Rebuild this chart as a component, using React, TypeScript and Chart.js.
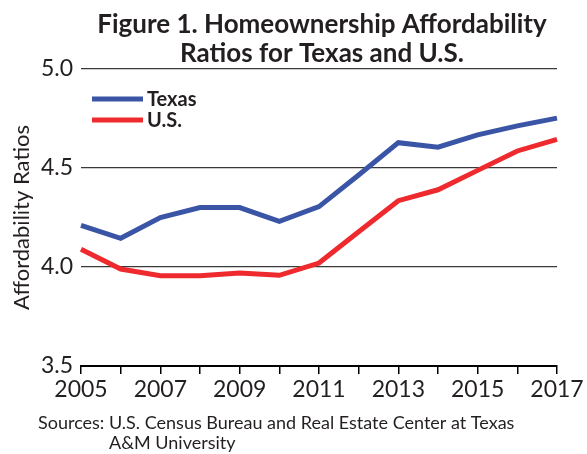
import React, { useEffect, useRef } from "react";
import { Chart, registerables } from "chart.js";

Chart.register(...registerables);

const years = ["2005", "2006", "2007", "2008", "2009", "2010", "2011", "2012", "2013", "2014", "2015", "2016", "2017"];
const texasValues = [4.21, 4.145, 4.25, 4.3, 4.3, 4.23, 4.305, 4.465, 4.628, 4.605, 4.667, 4.713, 4.752];
const usValues = [4.09, 3.99, 3.956, 3.956, 3.97, 3.958, 4.02, 4.178, 4.335, 4.39, 4.488, 4.586, 4.645];
const seriesNames = ["Texas", "U.S."];
const seriesColors = ["#3a55a5", "#ee2a2e"];
const titleLines = ["Figure 1. Homeownership Affordability", "Ratios for Texas and U.S."];
const sourceLines = ["Sources: U.S. Census Bureau and Real Estate Center at Texas", "A&M University"];
const yAxisTitle = "Affordability Ratios";
const yMin = 3.5;
const yMax = 5.0;
const yStep = 0.5;

const textColor = "#231f20";

const decorPlugin = {
  id: "decor",
  afterDraw(chart: any) {
    const { ctx, chartArea } = chart;
    ctx.save();
    // Title
    const cx = (chartArea.left + chartArea.right) / 2 + 3;
    ctx.fillStyle = textColor;
    ctx.font = "bold 26px Lato";
    ctx.textAlign = "center";
    ctx.textBaseline = "alphabetic";
    titleLines.forEach((line, i) => {
      ctx.fillText(line, cx, chartArea.top - 36 + i * 29);
    });
    // Legend
    const datasets = chart.data.datasets;
    datasets.forEach((ds: any, i: number) => {
      const y = chartArea.top + 30 + i * 21;
      ctx.strokeStyle = ds.borderColor;
      ctx.lineWidth = 5;
      ctx.beginPath();
      ctx.moveTo(chartArea.left + 11, y);
      ctx.lineTo(chartArea.left + 62, y);
      ctx.stroke();
      ctx.fillStyle = textColor;
      ctx.font = "bold 20px Lato";
      ctx.textAlign = "left";
      ctx.textBaseline = "middle";
      ctx.fillText(ds.label, chartArea.left + 66, y + 1);
    });
    // Sources
    ctx.font = "18px Lato";
    ctx.textAlign = "left";
    ctx.textBaseline = "middle";
    ctx.fillStyle = textColor;
    const sx = 38;
    ctx.fillText(sourceLines[0], sx, 423);
    const indent = ctx.measureText("Sources: ").width;
    ctx.fillText(sourceLines[1], sx + indent, 443);
    ctx.restore();
  },
};

export default function App() {
  const canvasRef = useRef<HTMLCanvasElement | null>(null);

  useEffect(() => {
    const canvas = canvasRef.current;
    if (!canvas) return;
    const chart = new Chart(canvas, {
      type: "line",
      data: {
        labels: years,
        datasets: [
          {
            label: seriesNames[0],
            data: texasValues,
            borderColor: seriesColors[0],
            backgroundColor: seriesColors[0],
            borderWidth: 5,
            pointRadius: 0,
            tension: 0,
          },
          {
            label: seriesNames[1],
            data: usValues,
            borderColor: seriesColors[1],
            backgroundColor: seriesColors[1],
            borderWidth: 5,
            pointRadius: 0,
            tension: 0,
          },
        ],
      },
      options: {
        responsive: false,
        animation: false,
        devicePixelRatio: 1,
        layout: { padding: { top: 69, right: 30, left: 0, bottom: 0 } },
        plugins: {
          legend: { display: false },
          title: { display: false },
          tooltip: { enabled: false },
        },
        scales: {
          x: {
            type: "category",
            offset: false,
            afterFit: (scale: any) => {
              scale.height = 88;
            },
            grid: {
              drawOnChartArea: false,
              drawTicks: true,
              tickLength: 8,
              color: "#000",
              lineWidth: 1.5,
            },
            border: { display: true, color: "#000", width: 2 },
            ticks: {
              autoSkip: false,
              maxRotation: 0,
              minRotation: 0,
              padding: 2,
              color: textColor,
              font: { family: "Lato", size: 23 },
              callback: (_v: any, i: number) => (i % 2 === 0 ? years[i] : ""),
            },
          },
          y: {
            min: yMin,
            max: yMax,
            afterFit: (scale: any) => {
              scale.width = 81;
            },
            grid: {
              drawTicks: false,
              color: "#3a3a3a",
              lineWidth: 1.2,
            },
            border: { display: false },
            ticks: {
              stepSize: yStep,
              padding: 8,
              color: textColor,
              font: { family: "Lato", size: 23 },
              callback: (v: any) => Number(v).toFixed(1),
            },
            title: {
              display: true,
              text: yAxisTitle,
              color: textColor,
              font: { family: "Lato", size: 22 },
              padding: { top: 9, bottom: 0 },
            },
          },
        },
      },
      plugins: [decorPlugin],
    });
    return () => chart.destroy();
  }, []);

  return (
    <div style={{ position: "absolute", left: 0, top: 0, width: 587, height: 454, background: "#fff" }}>
      <canvas ref={canvasRef} width={587} height={454} />
    </div>
  );
}
